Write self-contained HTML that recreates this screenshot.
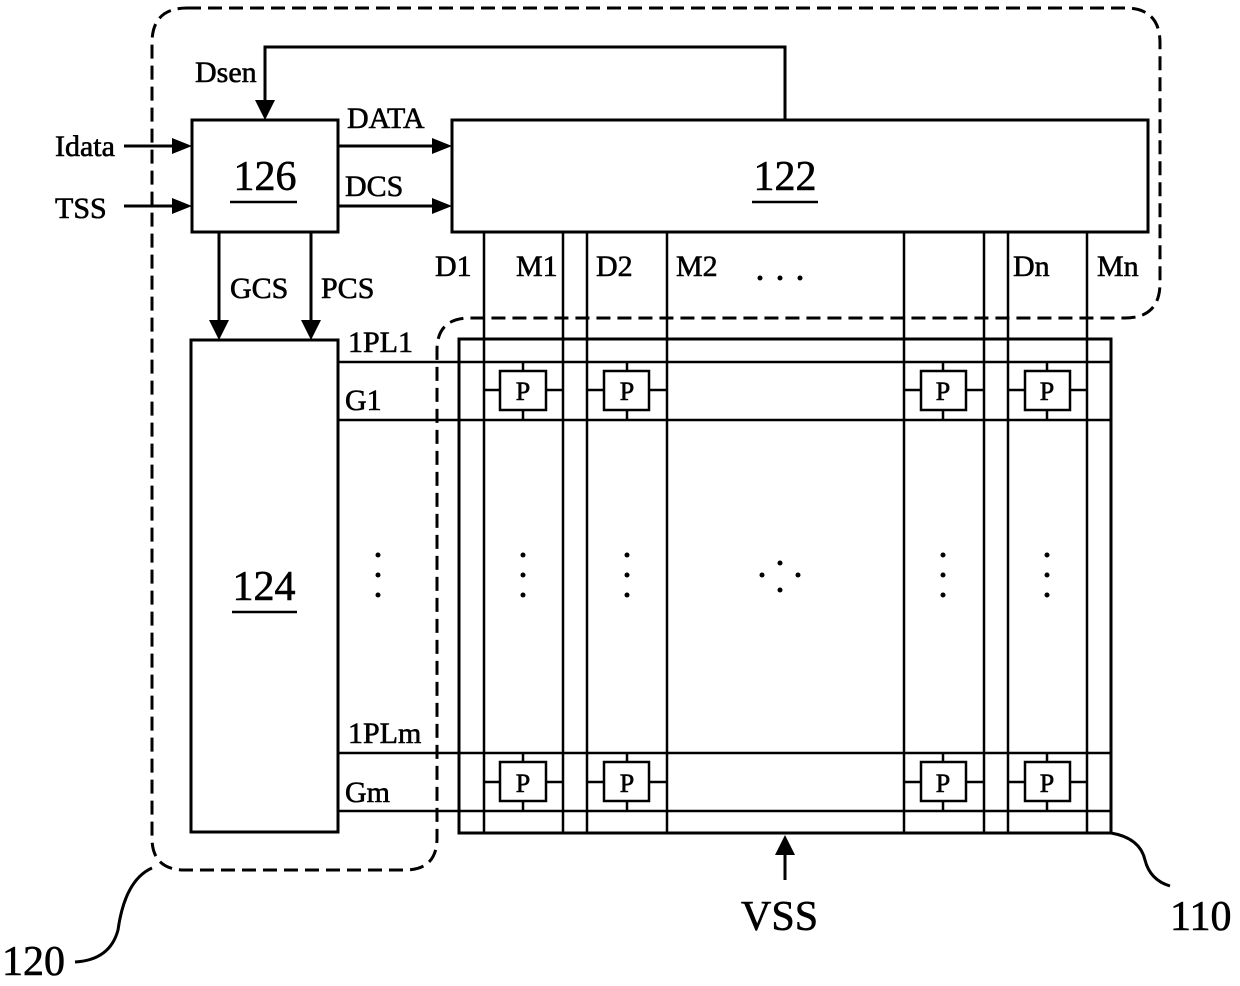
<!DOCTYPE html>
<html><head><style>body{margin:0;background:#fff}svg{display:block}text{font-family:"Liberation Serif",serif;fill:#000;stroke:#000;stroke-width:0.6}</style></head><body>
<svg width="1240" height="986" viewBox="0 0 1240 986" xmlns="http://www.w3.org/2000/svg">
<g fill="none" stroke="#000" stroke-width="3" stroke-dasharray="14,7">
<path d="M187,8 H1125 Q1160,8 1160,43 V283 Q1160,318 1125,318 H470 Q437,318 437,350 V838 Q437,870 405,870 H185 Q152,870 152,838 V43 Q152,8 187,8Z"/>
</g>
<g fill="none" stroke="#000" stroke-width="3">
<rect x="192" y="120" width="146" height="112"/>
<rect x="452" y="120" width="696" height="112"/>
<rect x="191" y="340" width="147" height="492"/>
<rect x="459" y="339" width="652" height="494"/>
<path d="M785,120 V47 H265 V100"/>
<line x1="124" y1="146" x2="172" y2="146"/><line x1="124" y1="206" x2="172" y2="206"/>
<line x1="338" y1="146" x2="432" y2="146"/><line x1="338" y1="206" x2="432" y2="206"/>
<line x1="219" y1="232" x2="219" y2="320"/><line x1="311" y1="232" x2="311" y2="320"/>
<line x1="785" y1="880" x2="785" y2="855"/>
<path d="M1111,833 Q1140,838 1145,860 Q1150,880 1170,886"/>
<path d="M75,962 Q110,960 118,930 Q125,880 152,868"/>
</g>
<g fill="#000">
<path d="M255,100 h20 l-10,20z"/>
<path d="M172,138 v16 l20,-8z"/><path d="M172,198 v16 l20,-8z"/>
<path d="M432,138 v16 l20,-8z"/><path d="M432,198 v16 l20,-8z"/>
<path d="M209,320 h20 l-10,20z"/><path d="M301,320 h20 l-10,20z"/>
<path d="M775,855 h20 l-10,-20z"/>
</g>
<g stroke="#000" stroke-width="2.5">
<line x1="484" y1="232" x2="484" y2="833"/><line x1="563" y1="232" x2="563" y2="833"/>
<line x1="587" y1="232" x2="587" y2="833"/><line x1="667" y1="232" x2="667" y2="833"/>
<line x1="904" y1="232" x2="904" y2="833"/><line x1="984" y1="232" x2="984" y2="833"/>
<line x1="1008" y1="232" x2="1008" y2="833"/><line x1="1087" y1="232" x2="1087" y2="833"/>
<line x1="338" y1="362" x2="1111" y2="362"/><line x1="338" y1="420" x2="1111" y2="420"/>
<line x1="338" y1="753" x2="1111" y2="753"/><line x1="338" y1="811" x2="1111" y2="811"/>
</g>
<g stroke="#000" stroke-width="2.5" fill="#fff">
<path d="M484,390H563M523,362V420" fill="none"/><rect x="500" y="371" width="46" height="39"/>
<path d="M587,390H667M627,362V420" fill="none"/><rect x="604" y="371" width="45" height="39"/>
<path d="M904,390H984M943,362V420" fill="none"/><rect x="921" y="371" width="45" height="39"/>
<path d="M1008,390H1087M1047,362V420" fill="none"/><rect x="1025" y="371" width="45" height="39"/>
<path d="M484,782H563M523,753V811" fill="none"/><rect x="500" y="762" width="46" height="39"/>
<path d="M587,782H667M627,753V811" fill="none"/><rect x="604" y="762" width="45" height="39"/>
<path d="M904,782H984M943,753V811" fill="none"/><rect x="921" y="762" width="45" height="39"/>
<path d="M1008,782H1087M1047,753V811" fill="none"/><rect x="1025" y="762" width="45" height="39"/>
</g>
<g font-size="26" text-anchor="middle">
<text x="523" y="400">P</text><text x="627" y="400">P</text><text x="943" y="400">P</text><text x="1047" y="400">P</text>
<text x="523" y="792">P</text><text x="627" y="792">P</text><text x="943" y="792">P</text><text x="1047" y="792">P</text>
</g>
<g font-size="30">
<text x="195" y="82">Dsen</text>
<text x="55" y="156">Idata</text><text x="55" y="218">TSS</text>
<text x="347" y="128">DATA</text><text x="345" y="196">DCS</text>
<text x="230" y="298">GCS</text><text x="321" y="298">PCS</text>
<text x="435" y="276">D1</text><text x="516" y="276">M1</text><text x="596" y="276">D2</text><text x="676" y="276">M2</text>
<text x="1013" y="276">Dn</text><text x="1097" y="276">Mn</text>
<text x="348" y="352">1PL1</text><text x="345" y="410">G1</text>
<text x="348" y="743">1PLm</text><text x="345" y="802">Gm</text>
</g>
<text x="265" y="190" font-size="42" text-anchor="middle">126</text><line x1="230" y1="202" x2="297" y2="202" stroke="#000" stroke-width="2.5"/>
<text x="785" y="190" font-size="42" text-anchor="middle">122</text><line x1="752" y1="202" x2="818" y2="202" stroke="#000" stroke-width="2.5"/>
<text x="264" y="600" font-size="42" text-anchor="middle">124</text><line x1="232" y1="612" x2="297" y2="612" stroke="#000" stroke-width="2.5"/>
<g font-size="42"><text x="741" y="930">VSS</text><text x="1170" y="930">110</text><text x="2" y="975">120</text></g>
<g fill="#000">
<circle cx="760" cy="278" r="2.5"/><circle cx="780" cy="278" r="2.5"/><circle cx="800" cy="278" r="2.5"/>
<circle cx="378" cy="555" r="2.5"/><circle cx="378" cy="575" r="2.5"/><circle cx="378" cy="595" r="2.5"/>
<circle cx="523" cy="555" r="2.5"/><circle cx="523" cy="575" r="2.5"/><circle cx="523" cy="595" r="2.5"/>
<circle cx="627" cy="555" r="2.5"/><circle cx="627" cy="575" r="2.5"/><circle cx="627" cy="595" r="2.5"/>
<circle cx="943" cy="555" r="2.5"/><circle cx="943" cy="575" r="2.5"/><circle cx="943" cy="595" r="2.5"/>
<circle cx="1047" cy="555" r="2.5"/><circle cx="1047" cy="575" r="2.5"/><circle cx="1047" cy="595" r="2.5"/>
<circle cx="780" cy="563" r="2.5"/><circle cx="762" cy="575" r="2.5"/><circle cx="798" cy="575" r="2.5"/><circle cx="780" cy="590" r="2.5"/>
</g>
</svg>
</body></html>
